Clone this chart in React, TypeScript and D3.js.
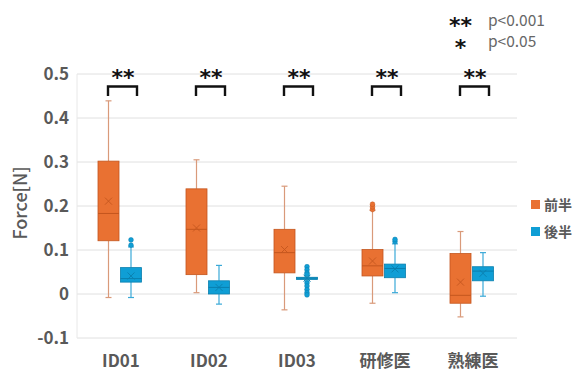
import React from "react";
import * as d3 from "d3";

const categories = ["ID01", "ID02", "ID03", "研修医", "熟練医"];
const seriesNames = ["前半", "後半"];
const yTicks = [-0.1, 0, 0.1, 0.2, 0.3, 0.4, 0.5];

const firstLow = [-0.008, 0.003, -0.036, -0.021, -0.052];
const firstQ1 = [0.121, 0.044, 0.048, 0.041, -0.021];
const firstMedian = [0.183, 0.147, 0.094, 0.064, -0.003];
const firstQ3 = [0.302, 0.239, 0.147, 0.101, 0.092];
const firstHigh = [0.439, 0.305, 0.245, 0.19, 0.142];
const firstMean = [0.211, 0.15, 0.101, 0.075, 0.027];
const firstOutliers = [[], [], [], [0.192, 0.198, 0.204], []];

const secondLow = [-0.008, -0.023, 0.03, 0.003, -0.005];
const secondQ1 = [0.027, 0.0, 0.033, 0.037, 0.03];
const secondMedian = [0.035, 0.015, 0.036, 0.058, 0.052];
const secondQ3 = [0.06, 0.03, 0.038, 0.068, 0.062];
const secondHigh = [0.107, 0.065, 0.041, 0.114, 0.094];
const secondMean = [0.041, 0.015, 0.036, 0.057, 0.047];
const secondOutliers = [[0.111, 0.123], [], [0.062, 0.055, 0.048, 0.045, 0.025, 0.018, 0.01, 0.003, -0.002], [0.119, 0.124], []];

const significance = ["**", "**", "**", "**", "**"];
const legendNotes = [
  { mark: "**", text: "p<0.001" },
  { mark: "*", text: "p<0.05" },
];

const ORANGE = "#E97132";
const BLUE = "#0F9ED5";
const FONT = "'Noto Sans CJK JP', 'Noto Sans', sans-serif";
const GRAY = "#595959";

type Series = {
  name: string;
  color: string;
  dark: string;
  whisk: string;
  offset: number;
  low: number[];
  q1: number[];
  med: number[];
  q3: number[];
  high: number[];
  mean: number[];
  out: number[][];
};

const series: Series[] = [
  { name: seriesNames[0], color: ORANGE, dark: "#C4561E", whisk: "#D99A7A", offset: -12.5, low: firstLow, q1: firstQ1, med: firstMedian, q3: firstQ3, high: firstHigh, mean: firstMean, out: firstOutliers },
  { name: seriesNames[1], color: BLUE, dark: "#0A7FAE", whisk: "#3AA9D8", offset: 10, low: secondLow, q1: secondQ1, med: secondMedian, q3: secondQ3, high: secondHigh, mean: secondMean, out: secondOutliers },
];

export default function App() {
  const W = 574, H = 369;
  const left = 77, right = 517, top = 74, bottom = 338;
  const y = d3.scaleLinear().domain([-0.1, 0.5]).range([bottom, top]);
  const x = d3.scaleBand<string>().domain(categories).range([left, right]).padding(0);
  const bw = 21;
  const cap = 6;
  const fmt = (v: number) => (v === 0 ? "0" : d3.format(".1f")(v).replace("\u2212", "-"));

  return (
    <svg width={W} height={H} style={{ position: "absolute", left: 0, top: 0, background: "#fff" }}>
      {yTicks.map((t) => (
        <line key={t} x1={left} x2={right} y1={y(t)} y2={y(t)} stroke="#e0e0e0" strokeWidth={1} />
      ))}
      <line x1={left} x2={left} y1={top} y2={bottom} stroke="#e8e8e8" strokeWidth={1} />
      {yTicks.map((t) => (
        <text key={"l" + t} x={69} y={y(t)} dy="0.36em" textAnchor="end" fontFamily={FONT} fontWeight={700} fontSize={17} fill={GRAY}>
          {fmt(t)}
        </text>
      ))}
      <text transform={`translate(27,${203}) rotate(-90)`} textAnchor="middle" fontFamily={FONT} fontSize={18} fontWeight={500} fill={GRAY}>
        Force[N]
      </text>
      {categories.map((c) => (
        <text key={c} x={x(c)! + x.bandwidth() / 2} y={367} textAnchor="middle" fontFamily={FONT} fontWeight={700} fontSize={17} fill={GRAY}>
          {c}
        </text>
      ))}
      {series.map((s) =>
        categories.map((c, i) => {
          const cx = x(c)! + x.bandwidth() / 2 + s.offset;
          const mx = 3.5;
          return (
            <g key={s.name + c}>
              <line x1={cx} x2={cx} y1={y(s.high[i])} y2={y(s.q3[i])} stroke={s.whisk} strokeWidth={1.2} />
              <line x1={cx} x2={cx} y1={y(s.q1[i])} y2={y(s.low[i])} stroke={s.whisk} strokeWidth={1.2} />
              <line x1={cx - cap / 2} x2={cx + cap / 2} y1={y(s.high[i])} y2={y(s.high[i])} stroke={s.whisk} strokeWidth={1.2} />
              <line x1={cx - cap / 2} x2={cx + cap / 2} y1={y(s.low[i])} y2={y(s.low[i])} stroke={s.whisk} strokeWidth={1.2} />
              <rect x={cx - bw / 2} width={bw} y={y(s.q3[i])} height={Math.max(y(s.q1[i]) - y(s.q3[i]), 2)} fill={s.color} stroke={s.dark} strokeWidth={0.8} />
              <line x1={cx - bw / 2} x2={cx + bw / 2} y1={y(s.med[i])} y2={y(s.med[i])} stroke={s.dark} strokeWidth={1} />
              <path d={`M${cx - mx},${y(s.mean[i]) - mx}L${cx + mx},${y(s.mean[i]) + mx}M${cx + mx},${y(s.mean[i]) - mx}L${cx - mx},${y(s.mean[i]) + mx}`} stroke={s.dark} strokeWidth={0.9} fill="none" />
              {s.out[i].map((o, k) => (
                <circle key={k} cx={cx} cy={y(o)} r={2.4} fill={s.color} stroke={s.dark} strokeWidth={0.5} />
              ))}
            </g>
          );
        })
      )}
      {categories.map((c, i) => {
        const cx = x(c)! + x.bandwidth() / 2;
        const x1 = cx - 13, x2 = cx + 16;
        return (
          <g key={"sig" + c}>
            <path d={`M${x1},96V86.5H${x2}V96`} fill="none" stroke="#111" strokeWidth={2.4} />
            <text x={cx + 2} y={85} textAnchor="middle" fontFamily="'DejaVu Sans', sans-serif" fontWeight={700} fontSize={22} fill="#111">
              {significance[i]}
            </text>
          </g>
        );
      })}
      {legendNotes.map((n, k) => (
        <g key={"n" + k}>
          <text x={460.5} y={33 + k * 22} textAnchor="middle" fontFamily="'DejaVu Sans', sans-serif" fontWeight={700} fontSize={22} fill="#111">
            {n.mark}
          </text>
          <text x={488} y={26 + k * 21} fontFamily={FONT} fontSize={15.5} fill="#666">
            {n.text}
          </text>
        </g>
      ))}
      {series.map((s, k) => (
        <g key={"lg" + k}>
          <rect x={531} y={200 + k * 27} width={9} height={9} fill={s.color} />
          <text x={544} y={205 + k * 27} dy="0.36em" fontFamily={FONT} fontWeight={700} fontSize={14} fill={GRAY}>
            {s.name}
          </text>
        </g>
      ))}
    </svg>
  );
}
